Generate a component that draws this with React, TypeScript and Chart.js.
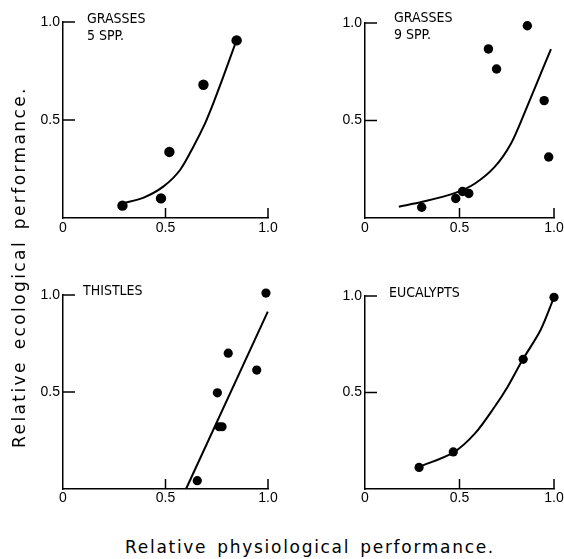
import React, { useEffect, useRef } from "react";
import { Chart, registerables } from "chart.js";

Chart.register(...registerables);

// ---- data ----
const tickValues = [0, 0.5, 1.0];
const innerTickValues = [0.5, 1.0];
const xTickLabels = ["0", "0.5", "1.0"];
const yTickLabels = ["", "0.5", "1.0"];

const grasses5X = [0.29, 0.478, 0.519, 0.685, 0.847];
const grasses5Y = [0.063, 0.1, 0.337, 0.68, 0.906];
const grasses5CurveX = [0.291, 0.391, 0.489, 0.571, 0.636, 0.693, 0.733, 0.782, 0.844];
const grasses5CurveY = [0.075, 0.103, 0.16, 0.245, 0.364, 0.483, 0.585, 0.721, 0.9];

const grasses9X = [0.3, 0.48, 0.516, 0.549, 0.653, 0.696, 0.859, 0.948, 0.972];
const grasses9Y = [0.055, 0.1, 0.136, 0.126, 0.867, 0.764, 0.986, 0.602, 0.313];
const grasses9CurveX = [0.179, 0.304, 0.478, 0.582, 0.686, 0.772, 0.842, 0.911, 0.984];
const grasses9CurveY = [0.058, 0.083, 0.129, 0.177, 0.262, 0.381, 0.534, 0.696, 0.866];

const thistlesX = [0.655, 0.753, 0.762, 0.776, 0.806, 0.945, 0.99];
const thistlesY = [0.043, 0.496, 0.321, 0.321, 0.7, 0.613, 1.01];
const thistlesLineX = [0.6, 0.999];
const thistlesLineY = [0.0, 0.914];

const eucalyptsX = [0.286, 0.467, 0.837, 1.0];
const eucalyptsY = [0.112, 0.192, 0.672, 0.993];
const eucalyptsCurveX = [0.286, 0.469, 0.582, 0.686, 0.755, 0.833, 0.929, 1.0];
const eucalyptsCurveY = [0.114, 0.19, 0.288, 0.426, 0.53, 0.668, 0.824, 0.993];

const labelGrasses5 = ["GRASSES", "5 SPP."];
const labelGrasses9 = ["GRASSES", "9 SPP."];
const labelThistles = ["THISTLES"];
const labelEucalypts = ["EUCALYPTS"];

const xTitle = "Relative physiological performance.";
const yTitle = "Relative ecological performance.";

const zip = (xs: number[], ys: number[]) => xs.map((x, i) => ({ x, y: ys[i] }));

const TICK_FONT = "'Liberation Sans', 'DejaVu Sans', sans-serif";
const LABEL_FONT = "'Liberation Sans Narrow', 'DejaVu Sans Condensed', 'Liberation Sans', sans-serif";

// panel captions + inward-pointing tick marks (positions from the chart's own scales)
const decorPlugin = {
  id: "decor",
  afterDraw(chart: any) {
    const { ctx, chartArea } = chart;
    const xs = chart.scales.x;
    const ys = chart.scales.y;
    const opts = chart.options.plugins.decor || {};
    ctx.save();
    ctx.strokeStyle = "#000000";
    ctx.lineWidth = 1.5;
    ctx.setLineDash([]);
    for (const v of innerTickValues) {
      const py = ys.getPixelForValue(v);
      ctx.beginPath();
      ctx.moveTo(chartArea.left, py);
      ctx.lineTo(chartArea.left + 12, py);
      ctx.stroke();
      const px = xs.getPixelForValue(v);
      ctx.beginPath();
      ctx.moveTo(px, chartArea.bottom);
      ctx.lineTo(px, chartArea.bottom - 10);
      ctx.stroke();
    }
    ctx.fillStyle = "#000";
    ctx.font = `14px ${LABEL_FONT}`;
    ctx.textAlign = "left";
    ctx.textBaseline = "alphabetic";
    (opts.lines || []).forEach((t: string, i: number) => {
      ctx.fillText(t, chartArea.left + opts.dx, chartArea.top + opts.dy + i * 17);
    });
    ctx.restore();
  },
};

type PanelSpec = {
  left: number;
  top: number;
  width: number;
  height: number;
  yAxisWidth: number;
  xAxisHeight: number;
  padTop: number;
  padRight: number;
  xPad: number;
  px: number[];
  py: number[];
  cx: number[];
  cy: number[];
  radius: number;
  tension: number;
  lines: string[];
  dx: number;
  dy: number;
};

function Panel({ spec }: { spec: PanelSpec }) {
  const ref = useRef<HTMLCanvasElement | null>(null);
  useEffect(() => {
    if (!ref.current) return;
    const chart = new Chart(ref.current, {
      type: "scatter",
      data: {
        datasets: [
          {
            type: "line",
            data: zip(spec.cx, spec.cy),
            borderColor: "#000",
            borderWidth: 2,
            pointRadius: 0,
            tension: spec.tension,
            fill: false,
            clip: false,
          } as any,
          {
            type: "scatter",
            data: zip(spec.px, spec.py),
            backgroundColor: "#000",
            borderColor: "#000",
            pointRadius: spec.radius,
            pointBorderWidth: 0,
            clip: false,
          } as any,
        ],
      },
      options: {
        animation: false,
        responsive: false,
        events: [],
        layout: {
          autoPadding: false,
          padding: { top: spec.padTop, right: spec.padRight, left: 0, bottom: 0 },
        },
        plugins: {
          legend: { display: false },
          tooltip: { enabled: false },
          decor: { lines: spec.lines, dx: spec.dx, dy: spec.dy },
        } as any,
        scales: {
          x: {
            type: "linear",
            min: 0,
            max: 1,
            afterBuildTicks: (s: any) => {
              s.ticks = tickValues.map((v) => ({ value: v }));
            },
            afterFit: (s: any) => {
              s.height = spec.xAxisHeight;
            },
            ticks: {
              color: "#000",
              font: { family: TICK_FONT, size: 14 },
              padding: spec.xPad,
              maxRotation: 0,
              callback: (_v: any, i: number) => xTickLabels[i],
            },
            grid: { display: false, drawTicks: false },
            border: { display: true, color: "#000", width: 1.5 },
          },
          y: {
            type: "linear",
            min: 0,
            max: 1,
            afterBuildTicks: (s: any) => {
              s.ticks = tickValues.map((v) => ({ value: v }));
            },
            afterFit: (s: any) => {
              s.width = spec.yAxisWidth;
            },
            ticks: {
              color: "#000",
              font: { family: TICK_FONT, size: 14 },
              padding: 3,
              callback: (_v: any, i: number) => yTickLabels[i],
            },
            grid: { display: false, drawTicks: false },
            border: { display: true, color: "#000", width: 1.5 },
          },
        },
      },
      plugins: [decorPlugin],
    } as any);
    return () => chart.destroy();
  }, [spec]);
  return (
    <canvas
      ref={ref}
      width={spec.width}
      height={spec.height}
      style={{
        position: "absolute",
        left: spec.left,
        top: spec.top,
        width: spec.width,
        height: spec.height,
        display: "block",
      }}
    />
  );
}

const panels: PanelSpec[] = [
  {
    left: 20, top: 0, width: 270, height: 250,
    yAxisWidth: 43, xAxisHeight: 32, padTop: 22, padRight: 22, xPad: 2,
    px: grasses5X, py: grasses5Y, cx: grasses5CurveX, cy: grasses5CurveY,
    radius: 5.2, tension: 0.3, lines: labelGrasses5, dx: 24, dy: 1,
  },
  {
    left: 290, top: 0, width: 284, height: 250,
    yAxisWidth: 75, xAxisHeight: 32, padTop: 23, padRight: 20, xPad: 2,
    px: grasses9X, py: grasses9Y, cx: grasses9CurveX, cy: grasses9CurveY,
    radius: 4.7, tension: 0.3, lines: labelGrasses9, dx: 29, dy: -1,
  },
  {
    left: 20, top: 260, width: 270, height: 270,
    yAxisWidth: 43, xAxisHeight: 41, padTop: 35, padRight: 22, xPad: 1,
    px: thistlesX, py: thistlesY, cx: thistlesLineX, cy: thistlesLineY,
    radius: 4.6, tension: 0, lines: labelThistles, dx: 20, dy: 0,
  },
  {
    left: 290, top: 260, width: 284, height: 270,
    yAxisWidth: 75, xAxisHeight: 41, padTop: 36, padRight: 20, xPad: 1,
    px: eucalyptsX, py: eucalyptsY, cx: eucalyptsCurveX, cy: eucalyptsCurveY,
    radius: 4.6, tension: 0.3, lines: labelEucalypts, dx: 24, dy: 1,
  },
];

const titleStyle: React.CSSProperties = {
  position: "absolute",
  fontFamily: "'DejaVu Sans', sans-serif",
  fontSize: 17,
  letterSpacing: "1.7px",
  wordSpacing: "3px",
  lineHeight: "20px",
  height: 20,
  color: "#000",
  textAlign: "center",
  whiteSpace: "nowrap",
};

export default function App() {
  return (
    <div
      style={{
        position: "absolute",
        left: 0,
        top: 0,
        width: 564,
        height: 559,
        background: "#fff",
        overflow: "hidden",
      }}
    >
      {panels.map((p, i) => (
        <Panel key={i} spec={p} />
      ))}
      <div style={{ ...titleStyle, left: 110, width: 400, top: 537 }}>{xTitle}</div>
      <div
        style={{
          ...titleStyle,
          left: 19 - 200,
          top: 267 - 10,
          width: 400,
          letterSpacing: "2.4px",
          transform: "rotate(-90deg)",
          transformOrigin: "50% 50%",
        }}
      >
        {yTitle}
      </div>
    </div>
  );
}
